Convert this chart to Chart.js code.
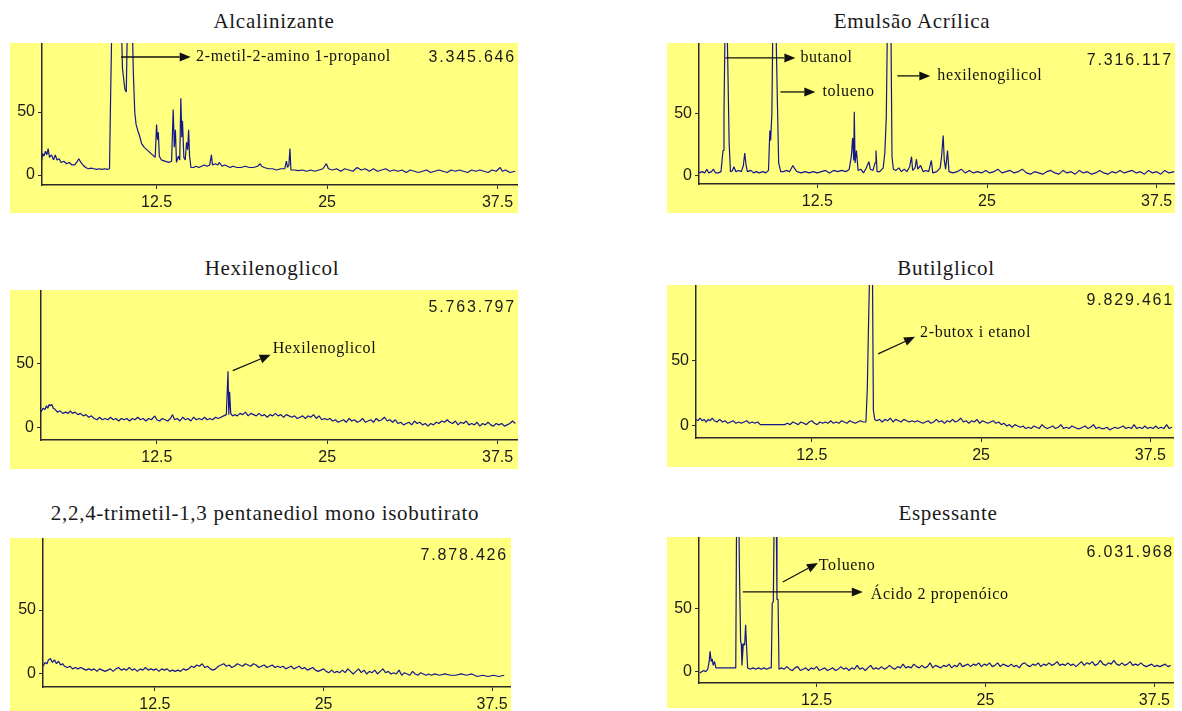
<!DOCTYPE html>
<html lang="pt">
<head>
<meta charset="utf-8">
<title>Cromatogramas</title>
<script src="https://cdn.jsdelivr.net/npm/chart.js@4.4.1/dist/chart.umd.min.js"></script>
<style>
  body { margin: 0; width: 1182px; height: 711px; background: #fff; position: relative; overflow: hidden; }
  .box { position: absolute; background: #ffff80; }
  .box canvas { position: absolute; left: 0; top: 0; }
  .titulo { position: absolute; width: 600px; text-align: center; font: 21px "Liberation Serif", serif; line-height: 20px; letter-spacing: 0.7px; color: #1a1a1a; white-space: nowrap; }
  .total { position: absolute; font: 16px "Liberation Sans", Arial, sans-serif; line-height: 16px; letter-spacing: 1.8px; color: #1a1a1a; white-space: nowrap; }
</style>
</head>
<body>
<script>
const xTicks = [12.5, 25, 37.5];
const xTickLabels = ['12.5', '25', '37.5'];
const yTicks = [0, 50];

// Alcalinizante
const tempoA = [4.05,4.15,4.25,4.35,4.45,4.55,4.65,4.8,4.95,5.07,
  5.2,5.35,5.5,5.7,5.9,6.1,6.3,6.5,6.7,6.8,
  6.95,7.1,7.3,7.5,7.7,7.9,8.1,8.3,8.5,8.7,
  8.9,9.05,9.12,9.22,9.92,10.0,10.1,10.18,10.28,10.36,
  10.72,10.8,10.9,11.0,11.13,11.26,11.4,11.6,11.9,12.2,
  12.4,12.5,12.57,12.63,12.7,12.85,13.1,13.4,13.6,13.72,
  13.8,13.88,13.96,14.1,14.2,14.28,14.35,14.4,14.5,14.6,
  14.7,14.78,14.85,14.92,15.02,15.2,15.4,15.6,15.8,16.0,
  16.2,16.4,16.52,16.6,16.8,17.0,17.1,17.3,17.5,17.7,
  17.9,18.1,18.4,18.7,19.0,19.3,19.6,19.9,20.1,20.2,
  20.4,20.7,21.0,21.3,21.6,21.9,22.02,22.1,22.2,22.28,
  22.35,22.6,22.9,23.2,23.5,23.8,24.1,24.4,24.7,24.95,
  25.1,25.4,25.7,26.0,26.3,26.6,26.9,27.2,27.5,27.8,
  28.1,28.4,28.7,29.0,29.3,29.6,29.9,30.2,30.5,30.8,
  31.1,31.4,31.7,32.0,32.3,32.6,32.9,33.2,33.5,33.8,
  34.1,34.4,34.7,35.0,35.3,35.6,35.9,36.2,36.5,36.8,
  37.1,37.4,37.7,37.85,38.1,38.4,38.8];
const sinalA = [10,17,15,19,16,21,14,16,12,16,
  12,13,10,11,9,10,8,8,11,13,
  10,8,6,5,5.5,5,4.5,5,4.5,5,
  4.5,5,55,120,120,85,75,68,66,120,
  120,80,50,40,35,31,25,22,19,16,
  14,40,28,34,15,12,11,10,11,52,
  22,36,10,15,12,61,30,43,14,12,
  26,20,36,15,6,6,7,6,7,8,
  7,8,16,8,9,8,10,7,8,7,
  6,7,6,6,7,6,6,7,9,7,
  6,5,5,4,5,5,11,6,8,21,
  4,4,3.5,4,3,4,3,4,5,9,
  5,4,5,3,5,4,3,6,4,5,
  3,5,3,4,5,3,4,3,4,2,
  4,3,2,3,4,2,3,4,3,2,
  4,3,4,3,2,4,3,4,3,2,
  4,3,6,3,4,2,3];

// Emulsão Acrílica
const tempoB = [3.8,4.0,4.2,4.35,4.5,4.7,4.85,5.0,5.2,5.4,
  5.55,5.62,5.7,5.85,5.92,6.0,6.1,6.25,6.35,6.5,
  6.7,6.9,7.05,7.15,7.25,7.35,7.6,7.8,8.0,8.2,
  8.5,8.7,8.9,9.0,9.06,9.15,9.22,9.45,9.55,9.65,
  9.8,10.0,10.2,10.45,10.7,10.85,11.0,11.3,11.6,11.9,
  12.2,12.5,12.8,13.1,13.4,13.7,14.0,14.3,14.6,14.85,
  15.0,15.1,15.18,15.22,15.28,15.38,15.5,15.7,15.9,16.1,
  16.3,16.4,16.6,16.75,16.82,16.9,17.1,17.35,17.47,17.58,
  17.66,17.92,18.0,18.1,18.3,18.5,18.7,18.9,19.1,19.3,
  19.44,19.52,19.7,19.8,19.9,20.1,20.3,20.5,20.7,20.9,
  21.0,21.3,21.55,21.65,21.77,21.85,21.95,22.09,22.2,22.5,
  22.8,23.1,23.4,23.7,24.0,24.3,24.6,24.9,25.2,25.5,
  25.8,26.1,26.4,26.7,27.0,27.3,27.6,27.9,28.2,28.5,
  28.8,29.1,29.4,29.7,30.0,30.3,30.6,30.9,31.2,31.5,
  31.8,32.1,32.4,32.7,33.0,33.3,33.6,33.9,34.2,34.5,
  34.8,35.1,35.4,35.7,36.0,36.3,36.6,36.9,37.2,37.5,
  37.8,38.1,38.4,38.8];
const sinalB = [2,3,2,5,2,3,5,2,2,3,
  20,48,120,120,78,26,3,4,7,3,
  4,3,8,18,8,3,4,2,3,2,
  3,2,4,36,28,50,120,120,62,10,
  3,3,4,3,8,5,3,2,3,2,
  3,2,3,4,2,4,3,4,3,5,
  15,30,12,51,10,20,4,5,2,6,
  11,5,4,10,20,3,3,6,18,47,
  120,120,15,5,4,6,3,5,3,7,
  15,4,6,13,5,8,3,4,3,12,
  2,3,6,15,32,12,5,20,3,2,
  3,5,2,4,2,3,2,4,2,3,
  5,2,3,4,2,3,5,2,1,3,
  2,1,3,4,2,1,4,2,3,1,
  4,2,3,1,2,4,2,1,3,2,
  4,2,3,4,2,3,1,4,2,3,
  1,4,2,3];

// Hexilenoglicol
const tempoC = [4.0,4.15,4.3,4.4,4.5,4.6,4.7,4.8,4.9,5.05,
  5.2,5.4,5.6,5.8,6.0,6.15,6.3,6.5,6.7,6.9,
  7.1,7.3,7.5,7.7,7.9,8.1,8.3,8.5,8.7,8.9,
  9.1,9.3,9.5,9.7,9.9,10.1,10.3,10.5,10.7,10.9,
  11.1,11.3,11.5,11.7,11.9,12.1,12.35,12.5,12.7,12.9,
  13.1,13.3,13.5,13.65,13.8,14.0,14.2,14.4,14.6,14.8,
  15.0,15.2,15.4,15.6,15.8,16.0,16.2,16.4,16.6,16.8,
  17.0,17.2,17.4,17.6,17.72,17.78,17.84,17.92,18.05,
  18.2,18.4,18.6,18.8,19.0,19.2,19.4,19.6,19.8,20.0,
  20.2,20.4,20.6,20.8,21.0,21.2,21.4,21.6,21.8,22.0,
  22.2,22.4,22.6,22.8,23.0,23.2,23.4,23.6,23.8,24.0,
  24.2,24.4,24.6,24.8,25.0,25.2,25.4,25.6,25.8,26.0,
  26.2,26.4,26.6,26.8,27.0,27.2,27.4,27.6,27.8,28.0,
  28.2,28.4,28.6,28.8,29.0,29.2,29.4,29.6,29.8,30.0,
  30.2,30.4,30.6,30.8,31.0,31.2,31.4,31.6,31.8,32.0,
  32.2,32.4,32.6,32.8,33.0,33.2,33.4,33.6,33.8,34.0,
  34.2,34.4,34.6,34.8,35.0,35.2,35.4,35.6,35.8,36.0,
  36.2,36.4,36.6,36.8,37.0,37.2,37.4,37.6,37.8,38.0,
  38.2,38.4,38.6,38.8];
const sinalC = [12,15,14,17,15,18,17,18,15,14,
  12,13,11,12,11,13,11,12,10,11,
  9,10,8,9,7,6,8,6,7,6,
  8,6,7,5,7,6,7,5,7,6,
  8,6,7,5,7,6,9,6,5,7,
  6,5,7,10,6,7,5,8,6,7,
  5,8,6,7,6,8,6,7,6,8,
  7,8,9,10,44,10,28,11,9,
  10,9,11,10,12,9,11,10,9,11,
  9,10,8,10,9,11,9,10,8,10,
  9,8,9,7,8,9,7,9,8,10,
  7,9,6,7,6,7,5,6,4,5,
  6,4,7,5,6,4,5,7,4,5,
  6,4,7,5,6,8,5,6,4,6,
  3,4,2,3,4,2,5,3,4,2,
  3,1,3,2,4,3,5,4,6,4,
  3,5,2,4,3,5,2,3,2,4,
  1,3,2,4,2,1,3,2,3,1,
  2,3,5,3];

// Butilglicol
const tempoD = [3.95,4.1,4.25,4.4,4.55,4.7,4.85,5.0,5.15,5.3,
  5.5,5.7,5.9,6.1,6.3,6.5,6.7,6.9,7.1,7.3,
  7.5,7.7,7.9,8.1,8.3,8.5,8.7,9.0,9.5,10.0,
  10.5,10.7,10.9,11.1,11.3,11.5,11.7,11.9,12.1,12.3,
  12.5,12.7,12.9,13.1,13.3,13.5,13.7,13.9,14.1,14.3,
  14.5,14.7,14.9,15.1,15.3,15.5,15.7,15.9,16.1,16.3,
  16.5,16.6,16.7,16.78,16.98,17.05,17.15,
  17.3,17.5,17.7,17.9,18.1,18.3,18.5,18.7,18.9,19.1,
  19.3,19.5,19.7,19.9,20.1,20.3,20.5,20.7,20.9,21.1,
  21.3,21.5,21.7,21.9,22.1,22.3,22.5,22.7,22.9,23.1,
  23.3,23.5,23.7,23.9,24.1,24.3,24.5,24.7,24.9,25.1,
  25.3,25.5,25.7,25.9,26.1,26.3,26.5,26.7,26.9,27.1,
  27.3,27.5,27.7,27.9,28.1,28.3,28.5,28.7,28.9,29.1,
  29.3,29.5,29.7,29.9,30.1,30.3,30.5,30.7,30.9,31.1,
  31.3,31.5,31.7,31.9,32.1,32.3,32.5,32.7,32.9,33.1,
  33.3,33.5,33.7,33.9,34.1,34.3,34.5,34.7,34.9,35.1,
  35.3,35.5,35.7,35.9,36.1,36.3,36.5,36.7,36.9,37.1,
  37.3,37.5,37.7,37.9,38.1,38.3,38.5,38.7,38.9,39.1];
const sinalD = [5,4,6,4,5,3,5,4,6,4,
  3,5,3,4,2,3,4,2,3,2,
  3,4,2,3,2,3,1,1,1,1,
  1,2,1,3,2,1,3,2,1,3,
  4,2,1,3,2,3,2,4,2,3,
  2,4,3,2,4,3,2,3,4,3,
  3,28,82,120,120,12,5,
  4,5,3,5,4,6,3,5,4,3,
  5,4,3,4,3,4,3,2,3,4,
  2,3,5,3,4,2,4,3,5,3,
  4,6,3,4,2,4,3,5,2,4,
  3,2,3,4,2,3,1,2,0,1,
  -1,1,0,-1,0,-2,-1,-2,0,-1,
  -2,1,-1,-2,-1,0,-2,-1,1,-2,
  -1,-2,0,-1,-2,-2,-1,0,-2,-1,
  1,-2,-1,-2,-2,-1,-3,-2,-1,-2,
  -1,0,-2,-1,-2,1,-2,-1,-2,0,
  -2,-1,-2,0,-2,-1,-2,1,-2,-1];

// 2,2,4-trimetil-1,3 pentanediol mono isobutirato
const tempoE = [4.2,4.35,4.5,4.6,4.75,4.9,5.05,5.2,5.35,5.5,5.65,5.8,
  6.0,6.2,6.4,6.6,6.8,7.0,7.2,7.4,7.6,7.8,
  8.0,8.2,8.4,8.6,8.8,9.0,9.2,9.4,9.6,9.8,
  10.0,10.2,10.4,10.6,10.8,11.0,11.2,11.4,11.6,11.8,
  12.0,12.2,12.4,12.6,12.8,13.0,13.2,13.4,13.6,13.8,
  14.0,14.2,14.4,14.6,14.8,15.0,15.2,15.4,15.6,15.8,
  16.0,16.2,16.4,16.6,16.8,17.0,17.2,17.4,17.6,17.8,
  18.0,18.2,18.4,18.6,18.8,19.0,19.2,19.4,19.6,19.8,
  20.0,20.2,20.4,20.6,20.8,21.0,21.2,21.4,21.6,21.8,
  22.0,22.2,22.4,22.6,22.8,23.0,23.2,23.4,23.6,23.8,
  24.0,24.2,24.4,24.6,24.8,25.0,25.2,25.4,25.6,25.8,
  26.0,26.2,26.4,26.6,26.8,27.0,27.2,27.4,27.6,27.8,
  28.0,28.2,28.4,28.6,28.8,29.0,29.2,29.4,29.6,29.8,
  30.0,30.2,30.4,30.6,30.8,31.0,31.2,31.4,31.6,31.8,
  32.0,32.2,32.4,32.6,32.8,33.0,33.2,
  33.6,34.0,34.4,34.8,35.2,35.6,36.0,36.4,36.8,37.2,37.6,38.0,38.4];
const sinalE = [6,9,8,11,12,9,11,8,10,7,8,6,
  5,6,4,5,4,5,4,3,4,3,
  4,2,4,3,2,3,4,2,4,5,
  3,4,3,5,3,4,2,4,3,5,
  3,4,3,4,2,4,3,4,2,3,
  2,3,2,4,3,4,6,5,7,6,
  8,5,6,4,3,4,6,7,8,6,
  7,5,6,8,7,6,8,7,6,8,
  7,5,6,7,5,6,7,5,6,5,
  6,4,5,6,4,5,6,4,5,3,
  4,5,3,2,3,4,2,1,3,1,
  2,1,3,1,4,2,0,2,4,1,
  3,0,2,1,3,0,2,4,1,2,
  0,1,0,3,-1,1,0,-1,2,0,
  -1,1,0,-1,0,-1,0,
  -1,0,-1,-1,0,-1,0,-2,-1,-2,-1,-2,-1];

// Espessante
const tempoF = [3.85,4.0,4.15,4.3,4.45,4.55,4.62,4.7,4.78,4.85,
  4.95,5.05,5.2,5.5,5.8,6.1,6.4,6.52,6.58,6.75,
  6.8,6.88,6.93,6.98,7.08,7.18,7.25,7.32,7.4,7.6,
  7.8,8.0,8.2,8.4,8.6,8.8,9.0,9.15,9.22,9.3,
  9.36,9.52,9.57,9.65,9.72,
  9.9,10.1,10.3,10.5,10.7,10.9,11.1,11.3,11.5,11.7,
  11.9,12.1,12.3,12.5,12.7,12.9,13.1,13.3,13.5,13.7,
  13.9,14.1,14.3,14.5,14.7,14.9,15.1,15.3,15.5,15.7,
  15.9,16.1,16.3,16.5,16.7,16.9,17.1,17.3,17.5,17.7,
  17.9,18.1,18.3,18.5,18.7,18.9,19.1,19.3,19.5,19.7,
  19.9,20.1,20.3,20.5,20.7,20.9,21.1,21.3,21.5,21.7,
  21.9,22.1,22.3,22.5,22.7,22.9,23.1,23.3,23.5,23.7,
  23.9,24.1,24.3,24.5,24.7,24.9,25.1,25.3,25.5,25.7,
  25.9,26.1,26.3,26.5,26.7,26.9,27.1,27.3,27.5,27.7,
  27.9,28.1,28.3,28.5,28.7,28.9,29.1,29.3,29.5,29.7,
  29.9,30.1,30.3,30.5,30.7,30.9,31.1,31.3,31.5,31.7,
  31.9,32.1,32.3,32.5,32.7,32.9,33.1,33.3,33.5,33.7,
  33.9,34.1,34.3,34.5,34.7,34.9,35.1,35.3,35.5,35.7,
  35.9,36.1,36.3,36.5,36.7,36.9,37.1,37.3,37.5,37.7,
  37.9,38.1,38.3,38.5,38.7];
const sinalF = [-1,0,1,0,2,8,16,8,10,5,
  8,3,3,3,3,3,3,3,120,120,
  74,24,22,5,22,21,37,20,3,2,
  3,2,3,2,3,2,3,3,54,55,
  120,120,57,57,2,
  3,2,4,2,1,3,4,1,2,3,
  1,3,2,4,1,2,3,1,2,3,
  1,2,4,2,3,1,3,2,5,2,
  3,1,3,5,2,3,2,4,2,3,
  5,3,2,4,3,6,3,4,3,6,
  4,3,5,3,4,7,3,5,4,3,
  5,4,6,3,5,4,7,4,5,6,
  4,6,5,7,4,6,5,7,4,5,
  7,4,6,5,4,6,4,5,3,6,
  7,5,4,6,5,7,4,6,5,7,
  5,6,8,5,6,5,7,5,6,4,
  6,8,5,7,6,8,5,6,9,6,
  5,7,6,9,6,5,7,5,6,8,
  5,6,5,7,5,4,5,6,4,5,
  4,5,6,4,5];

// ---- aparência ----
const LINHA = '#16168c';
const EIXO = '#2a2a2a';

const paineis = [
  { titulo: 'Alcalinizante', tx: 274, tb: 28, total: '3.345.646', tot: [14, 2],
    box: [10, 43, 508, 170], yw: 32, xh: 28, x: [4.1, 39.0], y: [-7.9, 104.8],
    t: tempoA, v: sinalA,
    notas: [{ de: [9.9, 93.7], ate: [15.0, 93.7], em: [15.4, 93.7], texto: '2-metil-2-amino 1-propanol' }] },
  { titulo: 'Emulsão Acrílica', tx: 912, tb: 28, total: '7.316.117', tot: [17, 2],
    box: [667, 43, 508, 170], yw: 32, xh: 29, x: [3.78, 38.85], y: [-6.9, 106.3],
    t: tempoB, v: sinalB,
    notas: [
      { de: [5.73, 94.3], ate: [10.88, 94.3], em: [11.25, 94.3], texto: 'butanol' },
      { de: [9.78, 67], ate: [12.35, 67], em: [12.87, 67], texto: 'tolueno' },
      { de: [18.39, 79.9], ate: [20.82, 79.9], em: [21.34, 79.9], texto: 'hexilenogilicol' }] },
  { titulo: 'Hexilenoglicol', tx: 272, tb: 275, total: '5.763.797', tot: [17, 2],
    box: [10, 290, 508, 179], yw: 31, xh: 29, x: [4.0, 39.0], y: [-9.9, 107.8],
    t: tempoC, v: sinalC,
    notas: [{ de: [18.07, 44.5], ate: [20.85, 57], em: [21.0, 61.7], texto: 'Hexilenoglicol' }] },
  { titulo: 'Butilglicol', tx: 946, tb: 275, total: '9.829.461', tot: [15, 0],
    box: [667, 285, 507, 182], yw: 29, xh: 29, x: [3.95, 39.25], y: [-9.2, 107.6],
    t: tempoD, v: sinalD,
    notas: [{ de: [17.4, 55], ate: [20.13, 68], em: [20.5, 71], texto: '2-butox i etanol' }] },
  { titulo: '2,2,4-trimetil-1,3 pentanediol mono isobutirato', tx: 265, tb: 520, total: '7.878.426', tot: [17, 3],
    box: [10, 538, 501, 173], yw: 33, xh: 24, x: [4.2, 38.9], y: [-10.2, 106.3],
    t: tempoE, v: sinalE, notas: [] },
  { titulo: 'Espessante', tx: 948, tb: 520, total: '6.031.968', tot: [15, 0],
    box: [667, 537, 507, 171], yw: 32, xh: 25, x: [3.8, 38.95], y: [-8.9, 106.2],
    t: tempoF, v: sinalF,
    notas: [
      { de: [10.0, 70.7], ate: [12.6, 85.7], em: [12.67, 83.4], texto: 'Tolueno' },
      { de: [7.04, 62.9], ate: [15.92, 62.9], em: [16.51, 60.5], texto: 'Ácido 2 propenóico' }] }
];

// setas e nomes dos picos, posicionados pelas escalas do gráfico
const setas = {
  id: 'setas',
  afterDatasetsDraw(chart, args, opts) {
    const { ctx, scales: { x, y } } = chart;
    ctx.save();
    ctx.strokeStyle = '#111';
    ctx.fillStyle = '#111';
    ctx.lineWidth = 1.3;
    for (const n of opts.itens || []) {
      const x0 = x.getPixelForValue(n.de[0]), y0 = y.getPixelForValue(n.de[1]);
      const x1 = x.getPixelForValue(n.ate[0]), y1 = y.getPixelForValue(n.ate[1]);
      const a = Math.atan2(y1 - y0, x1 - x0);
      const hx = x1 - 11 * Math.cos(a), hy = y1 - 11 * Math.sin(a);
      ctx.beginPath(); ctx.moveTo(x0, y0); ctx.lineTo(hx, hy); ctx.stroke();
      ctx.beginPath();
      ctx.moveTo(x1, y1);
      ctx.lineTo(hx + 4.5 * Math.sin(a), hy - 4.5 * Math.cos(a));
      ctx.lineTo(hx - 4.5 * Math.sin(a), hy + 4.5 * Math.cos(a));
      ctx.closePath(); ctx.fill();
      ctx.font = '16px "Liberation Serif"';
      ctx.letterSpacing = '0.6px';
      ctx.textBaseline = 'middle';
      ctx.fillText(n.texto, x.getPixelForValue(n.em[0]), y.getPixelForValue(n.em[1]));
    }
    ctx.restore();
  }
};

// sem folga extra para rótulos: a área do gráfico vai até a borda do quadro
function semFolga(s) {
  s.paddingTop = 0; s.paddingBottom = 0; s.paddingLeft = 0; s.paddingRight = 0;
}

function montaPainel(p) {
  const [left, top, w, h] = p.box;
  const box = document.createElement('div');
  box.className = 'box';
  Object.assign(box.style, { left: left + 'px', top: top + 'px', width: w + 'px', height: h + 'px' });
  const cv = document.createElement('canvas');
  cv.width = w; cv.height = h;
  box.appendChild(cv);
  const tot = document.createElement('div');
  tot.className = 'total';
  tot.textContent = p.total;
  tot.style.top = (p.tot[0] - 8) + 'px';
  tot.style.right = p.tot[1] + 'px';
  box.appendChild(tot);
  document.body.appendChild(box);

  const tit = document.createElement('div');
  tit.className = 'titulo';
  tit.textContent = p.titulo;
  tit.style.left = (p.tx - 300) + 'px';
  tit.style.top = (p.tb - 16.75) + 'px';
  document.body.appendChild(tit);

  if (p.t.length !== p.v.length) console.warn(p.titulo, p.t.length, p.v.length);

  new Chart(cv, {
    type: 'line',
    data: {
      datasets: [{
        data: p.t.map((t, i) => ({ x: t, y: p.v[i] })),
        borderColor: LINHA, borderWidth: 1.2, borderJoinStyle: 'bevel',
        pointRadius: 0, tension: 0, fill: false
      }]
    },
    options: {
      responsive: false, animation: false, events: [],
      layout: { padding: 0 },
      plugins: { legend: { display: false }, tooltip: { enabled: false }, setas: { itens: p.notas } },
      scales: {
        x: {
          type: 'linear', min: p.x[0], max: p.x[1],
          afterBuildTicks: s => { s.ticks = xTicks.map(v => ({ value: v })); },
          afterFit: s => { s.height = p.xh; semFolga(s); },
          grid: { drawOnChartArea: false, color: EIXO, tickLength: 4, lineWidth: 1 },
          border: { color: EIXO, width: 1.5 },
          ticks: { color: '#1a1a1a', font: { family: 'Liberation Sans', size: 16 }, padding: 4, maxRotation: 0, autoSkip: false,
                   callback: v => xTickLabels[xTicks.indexOf(v)] }
        },
        y: {
          min: p.y[0], max: p.y[1],
          afterBuildTicks: s => { s.ticks = yTicks.map(v => ({ value: v })); },
          afterFit: s => { s.width = p.yw; semFolga(s); },
          grid: { drawOnChartArea: false, color: EIXO, tickLength: 4, lineWidth: 1 },
          border: { color: EIXO, width: 1.5 },
          ticks: { color: '#1a1a1a', font: { family: 'Liberation Sans', size: 16 }, padding: 3,
                   callback: v => String(v) }
        }
      }
    },
    plugins: [setas]
  });
}

paineis.forEach(montaPainel);
</script>
</body>
</html>
